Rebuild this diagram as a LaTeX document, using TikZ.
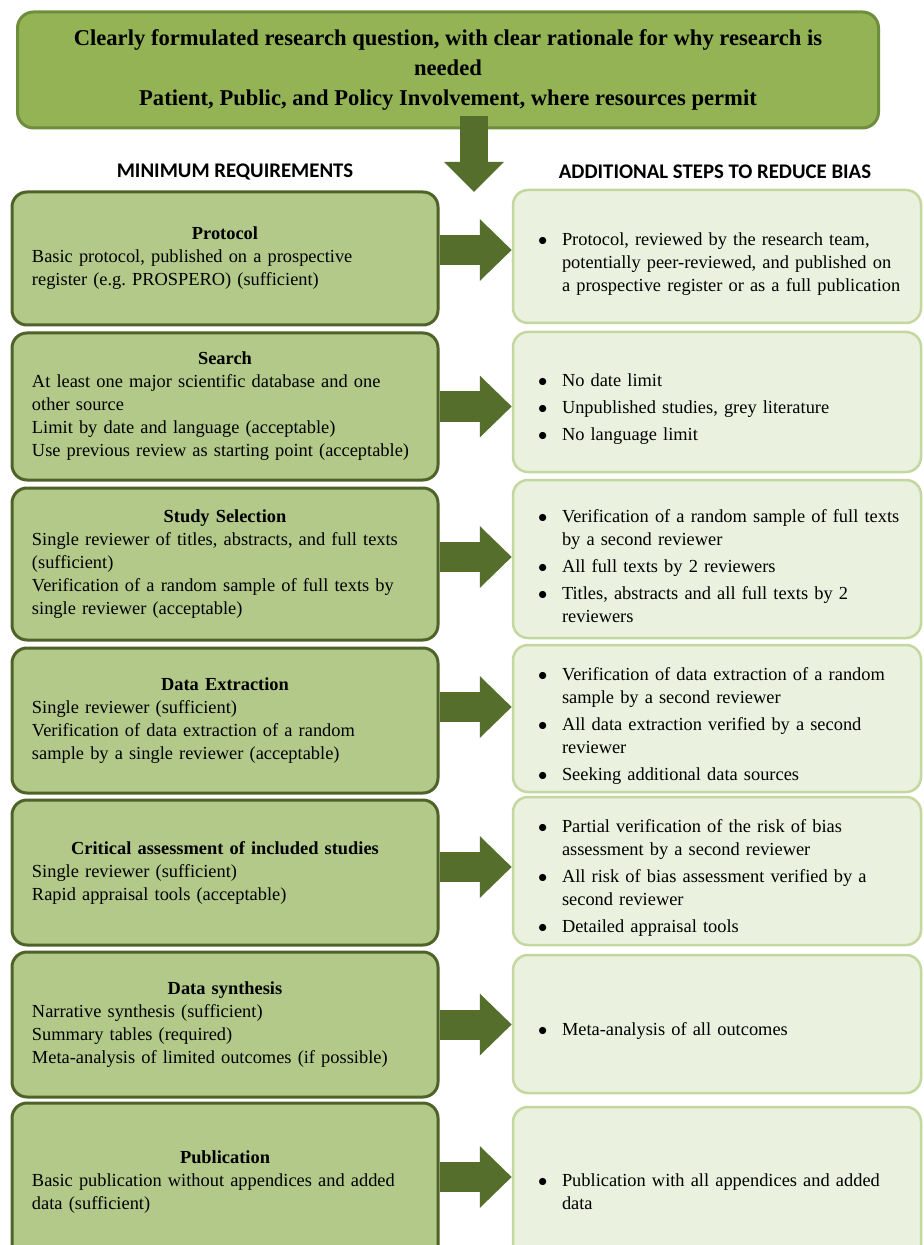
\documentclass[tikz,border=0pt]{standalone}
\usepackage{xcolor}
\usepackage{fontspec}
\setmainfont{Liberation Serif}
\newfontfamily\headfont{Carlito}
\usepackage{tikz}
\usetikzlibrary{arrows.meta}
\usetikzlibrary{positioning}
\usetikzlibrary{calc}
\definecolor{qfill}{HTML}{93B355}
\definecolor{qdraw}{HTML}{6F8E3D}
\definecolor{minfill}{HTML}{B2C98A}
\definecolor{mindraw}{HTML}{4F6228}
\definecolor{addfill}{HTML}{EAF1DE}
\definecolor{adddraw}{HTML}{C4D79F}
\definecolor{flow}{HTML}{566E2C}
\newcommand{\bodyfont}{\fontsize{9.2}{11.5}\selectfont}
\newcommand{\stepHead}[1]{{\centering\bfseries #1\par}}
\newcommand{\stepBul}[1]{\par\addvspace{2pt}\leftskip=5.5pt\hangindent=12pt\hangafter=1%
  \noindent\hbox to 12pt{$\bullet$\hfil}#1\par}

\begin{document}
\begin{tikzpicture}[
  x=0.5pt,y=-0.5pt,
  qbox/.style={
    rectangle,
    rounded corners=8pt,
    draw=qdraw,
    line width=1.5pt,
    fill=qfill,
    minimum width=430.5pt,
    minimum height=58pt,
    align=center,
    font=\fontsize{11.3}{14.8}\selectfont\bfseries},
  colhead/.style={
    font=\headfont\bfseries\fontsize{10.4}{12}\selectfont},
  minbox/.style={
    rectangle,
    rounded corners=7.5pt,
    draw=mindraw,
    line width=1.5pt,
    fill=minfill,
    minimum width=213pt,
    minimum height=#1,
    text width=193pt,
    inner xsep=10pt,
    align=left,
    font=\bodyfont},
  addbox/.style={
    rectangle,
    rounded corners=7.5pt,
    draw=adddraw,
    line width=1.25pt,
    fill=addfill,
    minimum width=204pt,
    minimum height=#1,
    text width=190pt,
    inner xsep=7pt,
    align=left,
    font=\bodyfont},
  flowarrow/.style={
    draw=flow,
    line width=15pt,
    -{Triangle[length=16pt,width=30pt]}},
  downarrow/.style={
    draw=flow,
    line width=14pt,
    -{Triangle[length=15pt,width=29pt]}},
]

  \def\colmin{225}%
  \def\coladd{717}%

  \clip (0,0) rectangle (923,1245);
  \fill[white] (0,0) rectangle (923,1245);

  % Research question
  \node[qbox] (question) at (448,70)
    {Clearly formulated research question, with clear rationale for why research is\\
     needed\\
     Patient, Public, and Policy Involvement, where resources permit};

  \node[colhead] (minhead) at (235,172) {MINIMUM REQUIREMENTS};
  \node[colhead] (addhead) at (715,172) {ADDITIONAL STEPS TO REDUCE BIAS};

  \coordinate (downtip) at (474,192);
  \draw[downarrow] ([xshift=13pt,yshift=6.5pt]question.south) -- (downtip);

  % Minimum requirements
  \node[minbox=66.5pt] (min_1) at (\colmin,258.5)
    {\stepHead{Protocol}
     Basic protocol, published on a prospective\\
     register (e.g.\ PROSPERO) (sufficient)};
  \node[minbox=73.5pt] (min_2) at (\colmin,406.5)
    {\stepHead{Search}
     At least one major scientific database and one\\
     other source\\
     Limit by date and language (acceptable)\\
     Use previous review as starting point (acceptable)};
  \node[minbox=76pt] (min_3) at (\colmin,564)
    {\stepHead{Study Selection}
     Single reviewer of titles, abstracts, and full texts\\
     (sufficient)\\
     Verification of a random sample of full texts by\\
     single reviewer (acceptable)};
  \node[minbox=72.5pt] (min_4) at (\colmin,720.5)
    {\stepHead{Data Extraction}
     Single reviewer (sufficient)\\
     Verification of data extraction of a random\\
     sample by a single reviewer (acceptable)};
  \node[minbox=72.5pt] (min_5) at (\colmin,872.5)
    {\stepHead{Critical assessment of included studies}
     Single reviewer (sufficient)\\
     Rapid appraisal tools (acceptable)};
  \node[minbox=72.5pt] (min_6) at (\colmin,1024.5)
    {\stepHead{Data synthesis}
     Narrative synthesis (sufficient)\\
     Summary tables (required)\\
     Meta-analysis of limited outcomes (if possible)};
  \node[minbox=79.5pt] (min_7) at (\colmin,1182.5)
    {\stepHead{Publication}
     Basic publication without appendices and added\\
     data (sufficient)};

  % Additional steps
  \node[addbox=66.5pt] (add_1) at (\coladd,256.5)
    {\stepBul{Protocol, reviewed by the research team,\break
     potentially peer-reviewed, and published on\break
     a prospective register or as a full publication}};
  \node[addbox=70pt] (add_2) at (\coladd,402)
    {\stepBul{No date limit}
     \stepBul{Unpublished studies, grey literature}
     \stepBul{No language limit}};
  \node[addbox=79pt] (add_3) at (\coladd,559)
    {\stepBul{Verification of a random sample of full texts\break
     by a second reviewer}
     \stepBul{All full texts by 2 reviewers}
     \stepBul{Titles, abstracts and all full texts by 2\break
     reviewers}};
  \node[addbox=73.5pt] (add_4) at (\coladd,718.5)
    {\stepBul{Verification of data extraction of a random\break
     sample by a second reviewer}
     \stepBul{All data extraction verified by a second\break
     reviewer}
     \stepBul{Seeking additional data sources}};
  \node[addbox=74pt] (add_5) at (\coladd,871)
    {\stepBul{Partial verification of the risk of bias\break
     assessment by a second reviewer}
     \stepBul{All risk of bias assessment verified by a\break
     second reviewer}
     \stepBul{Detailed appraisal tools}};
  \node[addbox=69pt] (add_6) at (\coladd,1024)
    {\stepBul{Meta-analysis of all outcomes}};
  \node[addbox=77.5pt] (add_7) at (\coladd,1184.5)
    {\stepBul{Publication with all appendices and added\break
     data}};

  \foreach \step/\dy in {1/4.25,2/0,3/3.5,4/6.75,5/2.75,6/0,7/2.75} {
    \draw[flowarrow] ([yshift=\dy pt]min_\step.east)
        -- ([yshift=\dy pt]min_\step.east -| add_\step.west);
  }

\end{tikzpicture}
\end{document}
